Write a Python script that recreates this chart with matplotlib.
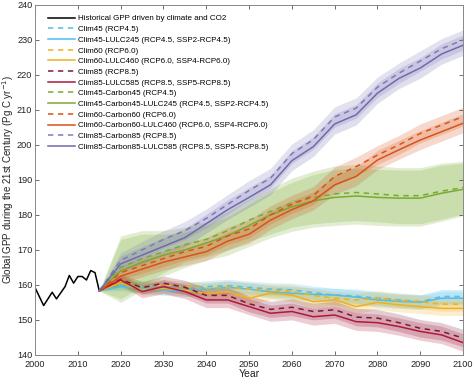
import matplotlib
matplotlib.use("Agg")
import matplotlib.pyplot as plt

plt.rcParams['font.family'] = ['Liberation Sans', 'DejaVu Sans']

# historical GPP (Pg C / yr)
hist_years = [2000, 2002, 2004, 2005, 2007, 2008, 2009, 2010, 2011, 2012, 2013, 2014, 2015]
hist_gpp = [159.2, 154.1, 157.9, 156.0, 159.5, 162.7, 160.5, 162.4, 162.4, 161.4, 164.1, 163.5, 158.3]

years = [2015, 2020, 2025, 2030, 2035, 2040, 2045, 2050, 2055, 2060,
         2065, 2070, 2075, 2080, 2085, 2090, 2095, 2100]

clim45 = [158.3, 160.0, 159.5, 159.3, 159.0, 159.5, 159.8, 159.3, 158.8, 158.6,
          157.8, 157.1, 156.8, 156.2, 155.7, 155.2, 156.7, 156.7]
clim45_l245 = [158.3, 159.5, 159.0, 158.5, 158.3, 158.8, 159.3, 158.8, 158.0, 157.6,
               157.3, 157.1, 156.5, 155.7, 155.3, 155.0, 156.2, 156.2]
clim60 = [158.3, 161.0, 159.5, 160.0, 159.5, 159.0, 159.3, 158.8, 158.4, 158.1,
          157.0, 156.2, 155.7, 156.2, 155.5, 155.2, 154.5, 154.5]
clim60_l460 = [158.3, 160.5, 158.5, 159.0, 158.5, 157.5, 158.0, 156.2, 157.6, 157.1,
               155.2, 155.7, 153.8, 155.0, 154.3, 153.8, 153.3, 153.3]
clim85 = [158.3, 161.6, 159.2, 160.5, 159.3, 157.0, 157.0, 154.6, 153.0, 153.6,
          152.4, 152.9, 150.8, 150.5, 149.2, 147.6, 146.7, 144.8]
clim85_l585 = [158.3, 161.4, 158.1, 159.5, 158.1, 155.7, 155.7, 153.8, 151.9, 152.4,
               150.9, 151.4, 149.5, 149.2, 148.1, 146.7, 145.7, 143.5]
c45 = [158.3, 165.0, 167.5, 169.5, 171.5, 173.0, 175.5, 178.5, 181.0, 183.5,
       185.0, 186.0, 186.4, 186.0, 185.5, 185.5, 186.8, 187.8]
c45_l245 = [158.3, 164.0, 166.5, 168.5, 170.0, 172.0, 174.0, 177.0, 180.0, 182.3,
            184.0, 185.0, 185.4, 185.0, 184.8, 184.8, 186.2, 187.3]
c60 = [158.3, 163.5, 165.5, 167.5, 169.5, 171.0, 174.0, 176.0, 180.0, 183.0,
       185.5, 191.0, 193.8, 197.1, 200.0, 203.3, 205.7, 208.1]
c60_l460 = [158.3, 162.5, 164.5, 166.5, 168.0, 169.5, 172.5, 174.5, 178.5, 181.5,
            184.0, 188.6, 191.0, 195.7, 198.6, 201.4, 203.8, 206.2]
c85 = [158.3, 167.0, 170.0, 173.0, 175.5, 179.0, 183.0, 187.0, 190.5, 197.5,
       201.5, 208.0, 210.5, 216.5, 220.5, 224.0, 227.5, 230.0]
c85_l585 = [158.3, 166.0, 168.5, 171.0, 173.5, 177.5, 181.5, 185.0, 188.6, 195.5,
            199.5, 206.0, 208.6, 214.8, 219.0, 222.0, 226.0, 228.5]

# uncertainty half-widths
spread_low = [0, 1.2, 1.4, 1.5, 1.6, 1.7, 1.8, 1.8, 1.8, 1.9, 1.9, 1.9, 2.0, 2.0, 2.0, 2.0, 2.0, 2.0]
spread_red = [0, 1.5, 1.8, 2.0, 2.0, 2.2, 2.2, 2.3, 2.3, 2.4, 2.4, 2.4, 2.5, 2.5, 2.5, 2.5, 2.5, 2.5]
spread_green = [0, 9.0, 8.0, 6.0, 5.0, 5.0, 5.5, 6.0, 6.5, 7.0, 7.5, 8.0, 8.0, 8.0, 8.0, 8.0, 8.0, 7.5]
spread_orange = [0, 2.0, 2.2, 2.3, 2.4, 2.5, 2.5, 2.6, 2.6, 2.6, 2.6, 2.7, 2.7, 2.7, 2.7, 2.7, 2.7, 2.7]
spread_purple = [0, 2.2, 2.4, 2.5, 2.6, 2.7, 2.8, 2.8, 2.8, 2.8, 2.8, 2.9, 2.9, 2.9, 2.9, 2.9, 2.9, 2.9]

series = [
    ('Clim45 (RCP4.5)', clim45, spread_low, '#4DBEEE', '--'),
    ('Clim45-LULC245 (RCP4.5, SSP2-RCP4.5)', clim45_l245, spread_low, '#4DBEEE', '-'),
    ('Clim60 (RCP6.0)', clim60, spread_low, '#EDB120', '--'),
    ('Clim60-LULC460 (RCP6.0, SSP4-RCP6.0)', clim60_l460, spread_low, '#EDB120', '-'),
    ('Clim85 (RCP8.5)', clim85, spread_red, '#7A1A3A', '--'),
    ('Clim85-LULC585 (RCP8.5, SSP5-RCP8.5)', clim85_l585, spread_red, '#B2183B', '-'),
    ('Clim45-Carbon45 (RCP4.5)', c45, spread_green, '#77AC30', '--'),
    ('Clim45-Carbon45-LULC245 (RCP4.5, SSP2-RCP4.5)', c45_l245, spread_green, '#77AC30', '-'),
    ('Clim60-Carbon60 (RCP6.0)', c60, spread_orange, '#D95319', '--'),
    ('Clim60-Carbon60-LULC460 (RCP6.0, SSP4-RCP6.0)', c60_l460, spread_orange, '#D95319', '-'),
    ('Clim85-Carbon85 (RCP8.5)', c85, spread_purple, '#7E7AB8', '--'),
    ('Clim85-Carbon85-LULC585 (RCP8.5, SSP5-RCP8.5)', c85_l585, spread_purple, '#6F6AAE', '-'),
]

fig = plt.figure(figsize=(4.74, 3.82), dpi=100)
ax = fig.add_axes([0.074, 0.071, 0.903, 0.916])

# bands first
for name, vals, sp, col, ls in series:
    lo = [v - s for v, s in zip(vals, sp)]
    hi = [v + s for v, s in zip(vals, sp)]
    ax.fill_between(years, lo, hi, color=col, alpha=0.22, linewidth=0)

ax.plot(hist_years, hist_gpp, color='black', lw=1.1, label='Historical GPP driven by climate and CO2')
for name, vals, sp, col, ls in series:
    ax.plot(years, vals, color=col, ls=ls, lw=1.1, label=name,
            dashes=(3.5, 3) if ls == '--' else (None, None))

ax.set_xlim(2000, 2100)
ax.set_ylim(140, 240)
ax.set_xticks(range(2000, 2101, 10))
ax.set_yticks(range(140, 241, 10))
ax.tick_params(direction='in', top=True, right=True, length=3, width=0.6,
               labelsize=6.6, colors='#555555', labelcolor='#222222', pad=2)
ax.tick_params(axis='x', pad=3.5)
for s in ax.spines.values():
    s.set_color('#888888')
    s.set_linewidth(0.7)

ax.set_xlabel('Year', fontsize=7.5, labelpad=0, color='#222222')
ax.set_ylabel('Global GPP during the 21st Century (Pg C yr$^{-1}$)', fontsize=7.0,
              labelpad=1, color='#222222')

ax.legend(loc='upper left', bbox_to_anchor=(0.012, 0.995), frameon=False, fontsize=5.8,
          handlelength=3.3, handletextpad=0.35, labelspacing=0.38, borderaxespad=0.6)

fig.savefig('out.png', dpi=100)
